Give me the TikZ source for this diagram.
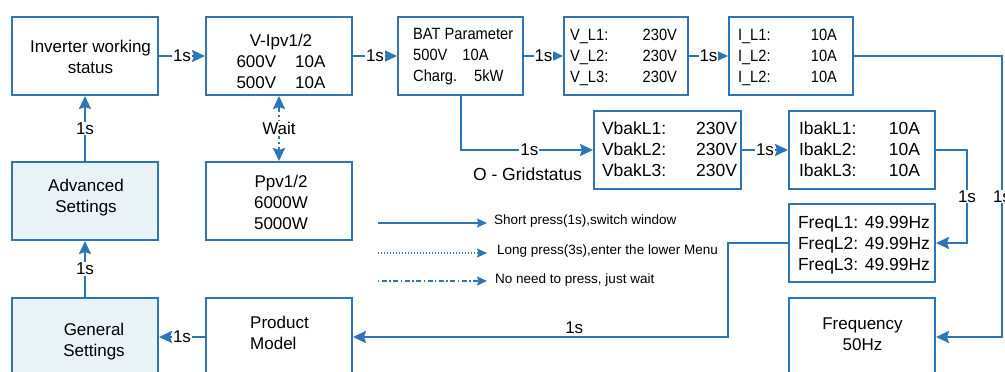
\documentclass[tikz,border=0pt]{standalone}
\usepackage{fontspec}
\setmainfont{Liberation Sans}
\newfontfamily\narrowfont{Liberation Sans}[FakeStretch=0.9]
\usetikzlibrary{arrows.meta}
\definecolor{lb}{RGB}{46,117,182}
\definecolor{fillb}{RGB}{234,243,248}
\begin{document}
\begin{tikzpicture}[x=1pt,y=-1pt,
  box/.style={draw=lb,line width=2pt,minimum width=146pt,minimum height=78pt,inner sep=0pt},
  fbox/.style={box,fill=fillb},
  txt/.style={inner sep=0pt,font=\fontsize{17}{21}\selectfont,align=center},
  stxt/.style={inner sep=0pt,font=\narrowfont\fontsize{16.3}{21}\selectfont,align=left},
  btxt/.style={inner sep=0pt,font=\fontsize{17.5}{21}\selectfont},
  ltxt/.style={inner sep=0pt,font=\fontsize{13.5}{16}\selectfont,anchor=west},
  lab/.style={fill=white,inner sep=1pt,font=\fontsize{17}{21}\selectfont},
  tip/.tip={Stealth[length=13pt,width=12pt,inset=2pt]},
  arr/.style={draw=lb,line width=2pt,-tip},
  warr/.style={draw=lb,line width=2pt,dash pattern=on 6pt off 3pt on 1.5pt off 3pt,tip-tip},
  larr/.style={draw=lb,line width=1.4pt,-{Stealth[length=10pt,width=9pt,inset=1.5pt]}},
  ]
\clip (0,0) rectangle (1005,372);
\fill[white] (0,0) rectangle (1005,372);

% boxes
\node[box] (inv) at (85,56) {};
\node[box] (vipv) at (279,56) {};
\node[box,minimum width=125pt] (bat) at (460.5,56) {};
\node[box,minimum width=124pt] (vl) at (626,56) {};
\node[box,minimum width=124pt] (il) at (791,56) {};
\node[box,minimum width=147pt] (vbak) at (667.5,150) {};
\node[box] (ibak) at (862,150) {};
\node[box] (fq) at (862,243) {};
\node[box] (fb) at (862,337) {};
\node[box] (prod) at (279,337) {};
\node[fbox] (gen) at (85,337) {};
\node[fbox] (adv) at (85,201) {};
\node[box] (ppv) at (279,201) {};

% texts
\node[txt] (invt) at (90.5,57) {Inverter working\\status};
\node[txt] (vipvt) at (281,61.5) {V-Ipv1/2\\600V\hspace{19pt}10A\\500V\hspace{19pt}10A};
\node[stxt,anchor=west] (batt) at (413,57) {BAT Parameter\\500V\hspace{15pt}10A\\Charg.\hspace{17pt}5kW};
\node[stxt] (vlt) at (623.5,57) {\begin{tabular*}{107pt}{@{}l@{\extracolsep{\fill}}r@{}}V\_L1: & 230V\\ V\_L2: & 230V\\ V\_L3: & 230V\end{tabular*}};
\node[stxt] (ilt) at (787.5,57) {\begin{tabular*}{99pt}{@{}l@{\extracolsep{\fill}}r@{}}I\_L1: & 10A\\ I\_L2: & 10A\\ I\_L2: & 10A\end{tabular*}};
\node[btxt] (vbakt) at (669.5,151) {\begin{tabular*}{135pt}{@{}l@{\extracolsep{\fill}}r@{}}VbakL1: & 230V\\ VbakL2: & 230V\\ VbakL3: & 230V\end{tabular*}};
\node[btxt] (ibakt) at (859.5,151) {\begin{tabular*}{121pt}{@{}l@{\extracolsep{\fill}}r@{}}IbakL1: & 10A\\ IbakL2: & 10A\\ IbakL3: & 10A\end{tabular*}};
\node[btxt,align=center] (fqt) at (864,245) {FreqL1: 49.99Hz\\FreqL2: 49.99Hz\\FreqL3: 49.99Hz};
\node[txt] (fbt) at (862.5,334) {Frequency\\50Hz};
\node[txt,align=left,anchor=west] (prodt) at (250,333) {Product\\Model};
\node[txt] (gent) at (94,341.5) {General\\Settings};
\node[txt] (advt) at (86,197.5) {Advanced\\Settings};
\node[txt] (ppvt) at (281,202) {Ppv1/2\\6000W\\5000W};
\node[btxt] (grid) at (527.5,174) {O - Gridstatus};

% connectors
\coordinate (r1) at (1002,0);
\coordinate (r2) at (967,0);
\coordinate (r3) at (728,0);
\draw[arr] (inv.east) -- node[lab]{1s} (vipv.west);
\draw[arr] (vipv.east) -- node[lab]{1s} (bat.west);
\draw[arr] (bat.east) -- node[lab]{1s} (vl.west);
\draw[arr] (vl.east) -- node[lab]{1s} (il.west);
\draw[arr] (vbak.east) -- node[lab]{1s} (ibak.west);
\draw[arr] (il.east) -- (il.east -| r1) -- node[lab]{1s} (fb.east -| r1) -- (fb.east);
\draw[arr] (ibak.east) -- (ibak.east -| r2) -- node[lab]{1s} (fq.east -| r2) -- (fq.east);
\draw[arr] (fq.west) -- (fq.west -| r3) -- (prod.east -| r3) -- node[pos=0.41,above,inner sep=2pt,font=\fontsize{17}{21}\selectfont]{1s} (prod.east);
\draw[arr] (prod.west) -- node[lab]{1s} (gen.east);
\draw[arr] (gen.north) -- node[lab]{1s} (adv.south);
\draw[arr] (adv.north) -- node[lab]{1s} (inv.south);
\draw[arr] (bat.south) |- node[pos=0.76,lab]{1s} (vbak.west);
\draw[warr] (vipv.south) -- node[lab]{Wait} (ppv.north);

% legend
\coordinate (l1a) at (378,223); \coordinate (l1b) at (487,223);
\coordinate (l2a) at (378,253); \coordinate (l2b) at (487,253);
\coordinate (l3a) at (378,281); \coordinate (l3b) at (487,281);
\draw[larr] (l1a) -- (l1b);
\draw[larr,dash pattern=on 1.4pt off 1.6pt] (l2a) -- (l2b);
\draw[larr,dash pattern=on 1.4pt off 2.5pt on 5pt off 2.5pt] (l3a) -- (l3b);
\node[ltxt] (lt1) at (494,221) {Short press(1s),switch window};
\node[ltxt] (lt2) at (497,251) {Long press(3s),enter the lower Menu};
\node[ltxt] (lt3) at (495,280) {No need to press, just wait};
\end{tikzpicture}
\end{document}
